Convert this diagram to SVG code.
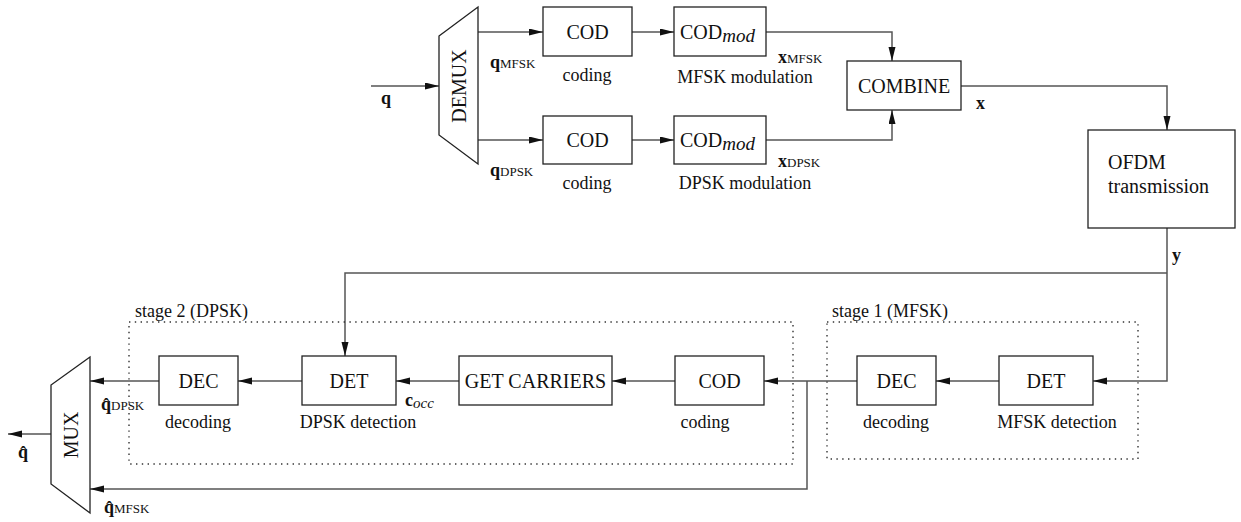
<svg xmlns="http://www.w3.org/2000/svg" width="1241" height="522" viewBox="0 0 1241 522">
<defs>
<marker id="ah" markerUnits="userSpaceOnUse" markerWidth="14" markerHeight="8" refX="14" refY="3.5" orient="auto">
<path d="M0,0 L14,3.5 L0,7 z" fill="#111"/>
</marker>
<style>
.box{fill:#fff;stroke:#222;stroke-width:1.3}
.ln{fill:none;stroke:#555;stroke-width:1.5}
.dot{fill:none;stroke:#333;stroke-width:1.4;stroke-dasharray:1.4 4.4}
text{font-family:"Liberation Serif","Times New Roman",serif;fill:#111}
.bl{font-size:20px;text-anchor:middle}
.cap{font-size:18px;text-anchor:middle}
.st{font-size:18px}
.v{font-size:18px;font-weight:bold}
.sub{font-size:13px;font-weight:normal}
.it{font-style:italic}
</style>
</defs>
<rect width="1241" height="522" fill="#fff"/>

<g id="connectors">
<path class="ln" d="M371,86 H439" marker-end="url(#ah)"/>
<path class="ln" d="M478,32 H543" marker-end="url(#ah)"/>
<path class="ln" d="M478,140 H543" marker-end="url(#ah)"/>
<path class="ln" d="M632,32 H674" marker-end="url(#ah)"/>
<path class="ln" d="M632,140 H674" marker-end="url(#ah)"/>
<path class="ln" d="M766,32 H892 V61" marker-end="url(#ah)"/>
<path class="ln" d="M766,140 H892 V110" marker-end="url(#ah)"/>
<path class="ln" d="M961,86 H1167 V130" marker-end="url(#ah)"/>
<path class="ln" d="M1167,228 V381 H1093" marker-end="url(#ah)"/>
<path class="ln" d="M1167,273 H345 V356" marker-end="url(#ah)"/>
<path class="ln" d="M999,381 H936" marker-end="url(#ah)"/>
<path class="ln" d="M857,381 H764" marker-end="url(#ah)"/>
<path class="ln" d="M807,381 V489 H90" marker-end="url(#ah)"/>
<path class="ln" d="M675,381 H612" marker-end="url(#ah)"/>
<path class="ln" d="M459,381 H396" marker-end="url(#ah)"/>
<path class="ln" d="M302,381 H238" marker-end="url(#ah)"/>
<path class="ln" d="M159,381 H90" marker-end="url(#ah)"/>
<path class="ln" d="M51,434 H8" marker-end="url(#ah)"/>
</g>

<g id="stage1">
<rect class="dot" x="827" y="322" width="311" height="137"/>
<text class="st" x="832" y="317">stage 1 (MFSK)</text>
</g>
<g id="stage2">
<rect class="dot" x="129" y="322" width="664" height="142"/>
<text class="st" x="135" y="317">stage 2 (DPSK)</text>
</g>

<g id="demux">
<polygon class="box" points="439,36 478,7 478,164 439,135"/>
<text class="bl" font-size="21" transform="translate(466,86) rotate(-90)" x="0" y="0">DEMUX</text>
</g>
<g id="cod1">
<rect class="box" x="543" y="7" width="89" height="49"/>
<text class="bl" x="587.5" y="39">COD</text>
<text class="cap" x="587" y="81">coding</text>
</g>
<g id="codmod1">
<rect class="box" x="674" y="7" width="92" height="49"/>
<text x="680" y="39" font-size="20">COD<tspan class="it" font-size="19" dy="3">mod</tspan></text>
<text class="cap" x="745" y="83">MFSK modulation</text>
</g>
<g id="cod2">
<rect class="box" x="543" y="116" width="89" height="48"/>
<text class="bl" x="587.5" y="147">COD</text>
<text class="cap" x="587" y="189">coding</text>
</g>
<g id="codmod2">
<rect class="box" x="674" y="116" width="92" height="48"/>
<text x="680" y="147" font-size="20">COD<tspan class="it" font-size="19" dy="3">mod</tspan></text>
<text class="cap" x="745" y="189">DPSK modulation</text>
</g>
<g id="combine">
<rect class="box" x="847" y="61" width="114" height="49"/>
<text class="bl" x="904" y="93">COMBINE</text>
</g>
<g id="ofdm">
<rect class="box" x="1088" y="130" width="147" height="98"/>
<text x="1108" y="169" font-size="20">OFDM</text>
<text x="1108" y="193" font-size="20">transmission</text>
</g>

<g id="det1">
<rect class="box" x="999" y="356" width="94" height="49"/>
<text class="bl" x="1046" y="388">DET</text>
<text class="cap" x="1057" y="428">MFSK detection</text>
</g>
<g id="dec1">
<rect class="box" x="857" y="356" width="79" height="49"/>
<text class="bl" x="896.5" y="388">DEC</text>
<text class="cap" x="896" y="428">decoding</text>
</g>
<g id="cod3">
<rect class="box" x="675" y="356" width="89" height="49"/>
<text class="bl" x="719.5" y="388">COD</text>
<text class="cap" x="705" y="428">coding</text>
</g>
<g id="getcarriers">
<rect class="box" x="459" y="356" width="153" height="49"/>
<text class="bl" x="535.5" y="388" font-size="19">GET CARRIERS</text>
</g>
<g id="det2">
<rect class="box" x="302" y="356" width="94" height="49"/>
<text class="bl" x="349" y="388">DET</text>
<text class="cap" x="358" y="428">DPSK detection</text>
</g>
<g id="dec2">
<rect class="box" x="159" y="356" width="79" height="49"/>
<text class="bl" x="198.5" y="388">DEC</text>
<text class="cap" x="198" y="428">decoding</text>
</g>
<g id="mux">
<polygon class="box" points="90,357 90,513 51,484 51,385"/>
<text class="bl" transform="translate(78,435) rotate(-90)" x="0" y="0">MUX</text>
</g>

<g id="labels">
<text class="v" x="381" y="104">q</text>
<text class="v" x="490" y="68">q<tspan class="sub">MFSK</tspan></text>
<text class="v" x="490" y="176">q<tspan class="sub">DPSK</tspan></text>
<text class="v" x="778" y="63">x<tspan class="sub">MFSK</tspan></text>
<text class="v" x="778" y="167">x<tspan class="sub">DPSK</tspan></text>
<text class="v" x="976" y="109">x</text>
<text class="v" x="1172" y="261">y</text>
<text class="v" x="405" y="406">c<tspan class="it" font-weight="normal" font-size="15" dy="2">occ</tspan></text>
<text class="v" x="101" y="410">q̂<tspan class="sub">DPSK</tspan></text>
<text class="v" x="104" y="513">q̂<tspan class="sub">MFSK</tspan></text>
<text class="v" x="18" y="458">q̂</text>
</g>
</svg>
